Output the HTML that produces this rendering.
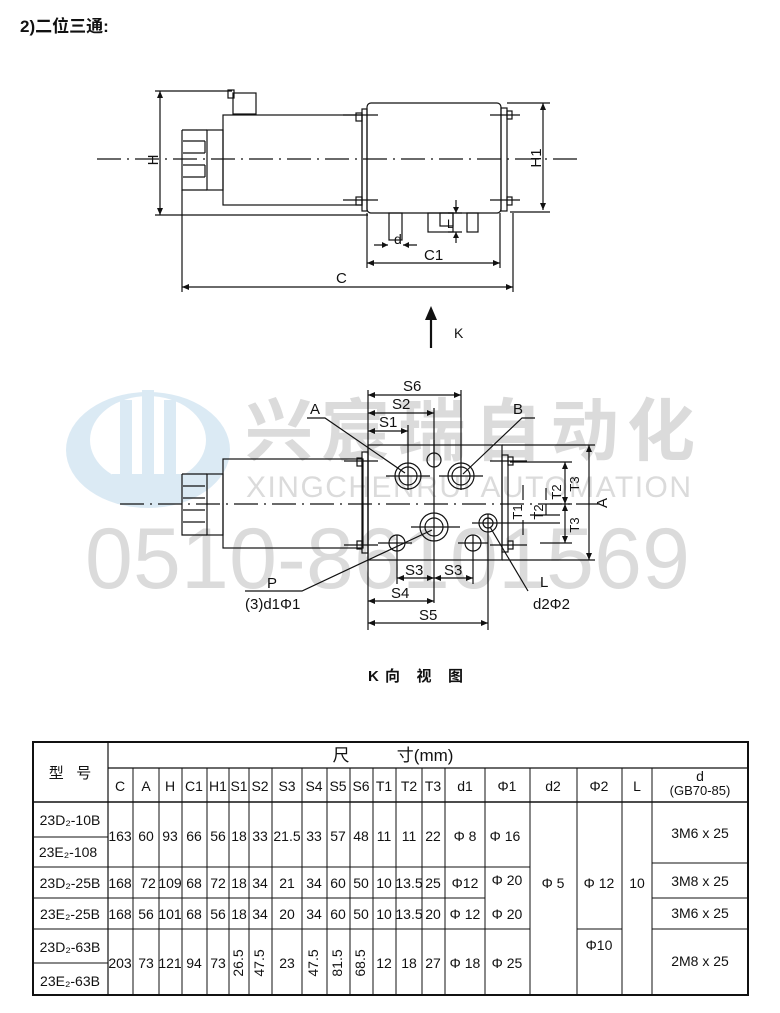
<!DOCTYPE html>
<html><head><meta charset="utf-8"><style>
html,body{margin:0;padding:0;background:#fff}
svg{display:block}
text{font-family:"Liberation Sans","Noto Sans CJK SC",sans-serif;fill:#111}
</style></head><body>
<svg width="780" height="1013" viewBox="0 0 780 1013" xmlns="http://www.w3.org/2000/svg">
<!-- watermark -->
<g opacity="0.5">
<ellipse cx="148" cy="450" rx="82" ry="58" fill="#b9d6ea"/>
<ellipse cx="148" cy="440" rx="58" ry="44" fill="#fff"/>
<rect x="120" y="400" width="12" height="80" fill="#b9d6ea"/>
<rect x="142" y="390" width="12" height="90" fill="#b9d6ea"/>
<rect x="164" y="400" width="12" height="80" fill="#b9d6ea"/>
<rect x="112" y="474" width="72" height="10" fill="#b9d6ea"/>
<text x="245" y="455" font-size="68" font-weight="bold" style="fill:#b8b8b8" textLength="450">兴宸瑞自动化</text>
<text x="246" y="497" font-size="30" style="fill:#b8b8b8" textLength="445">XINGCHENRUI AUTOMATION</text>
<text x="85" y="588" font-size="86" style="fill:#b8b8b8" textLength="605">0510-86101569</text>
</g>

<text x="20" y="32" font-size="17" font-weight="bold">2)二位三通:</text>

<g stroke="#111" stroke-width="1.2" fill="none">
<!-- TOP VIEW -->
<line x1="97" y1="159" x2="578" y2="159" stroke-dasharray="24,6,2,6"/>
<line x1="160" y1="91" x2="160" y2="215"/>
<line x1="155" y1="91" x2="232" y2="91"/>
<line x1="155" y1="215" x2="368" y2="215"/>
<rect x="233" y="93" width="23" height="21"/>
<rect x="228" y="90" width="6" height="8"/>
<rect x="223" y="115" width="139" height="90"/>
<rect x="207" y="130" width="16" height="60"/>
<path d="M182 130H207M182 130V190H207M183 141H205M183 153H205M183 165H205M183 177H205M205 141V153M205 165V177"/>
<rect x="362" y="109" width="5" height="102"/>
<rect x="367" y="103" width="134" height="110" rx="4"/>
<rect x="501" y="108" width="6" height="103"/>
<rect x="356" y="113" width="6" height="8"/><rect x="356" y="197" width="6" height="8"/>
<rect x="507" y="111" width="5" height="8"/><rect x="507" y="197" width="5" height="8"/>
<path d="M343 115H378M343 200H378M490 115H520M490 200H520"/>
<line x1="543" y1="103" x2="543" y2="210"/>
<path d="M507 103H550M510 212H550"/>
<rect x="389" y="213" width="13" height="27"/>
<rect x="428" y="213" width="25" height="19"/>
<rect x="440" y="213" width="13" height="13"/>
<rect x="467" y="213" width="11" height="19"/>
<path d="M374 245H388M403 245H417"/>
<path d="M456 200V213M456 232V243M448 213H462M448 232H462"/>
<line x1="367" y1="263" x2="500" y2="263"/>
<path d="M367 213V268M500 213V268"/>
<line x1="182" y1="287" x2="513" y2="287"/>
<path d="M182 190V292M513 213V292"/>
<line x1="431" y1="318" x2="431" y2="348" stroke-width="2.2"/>
<!-- BOTTOM VIEW -->
<line x1="120" y1="504" x2="600" y2="504" stroke-dasharray="24,6,2,6"/>
<rect x="223" y="459" width="140" height="89"/>
<rect x="207" y="474" width="16" height="61"/>
<path d="M182 474H207M182 474V535H207M183 486H205M183 498H205M183 510H205M183 522H205"/>
<rect x="362" y="452" width="6" height="101"/>
<rect x="368" y="445" width="134" height="115"/>
<rect x="502" y="455" width="6" height="97"/>
<rect x="357" y="458" width="5" height="8"/><rect x="357" y="541" width="5" height="8"/>
<rect x="508" y="457" width="5" height="8"/><rect x="508" y="541" width="5" height="8"/>
<path d="M344 461H378M344 545H378M490 461H527M490 545H527"/>
<circle cx="408" cy="476" r="13"/><circle cx="408" cy="476" r="9"/>
<circle cx="461" cy="476" r="13"/><circle cx="461" cy="476" r="9"/>
<circle cx="434" cy="460" r="7"/>
<circle cx="434" cy="527" r="14"/><circle cx="434" cy="527" r="9"/>
<circle cx="488" cy="523" r="9"/><circle cx="488" cy="523" r="5"/>
<circle cx="397" cy="543" r="8"/><circle cx="473" cy="543" r="8"/>
<path d="M386 476H430M439 476H483M408 440V490M461 390V490M411 527H460M472 523H560M378 543H412M458 543H488M434 440V603M397 535V584M473 535V584M488 514V630M408 425V465"/>
<path d="M368 390V630"/>
<line x1="368" y1="395" x2="461" y2="395"/>
<line x1="368" y1="413" x2="434" y2="413"/><line x1="434" y1="408" x2="434" y2="455"/>
<line x1="368" y1="431" x2="408" y2="431"/>
<path d="M307 418H325L405 473M535 418H522L463 474"/>
<path d="M397 578H473M368 601H434M368 623H488"/>
<path d="M245 591H302L432 530M528 591L490 527"/>
<line x1="589" y1="445" x2="589" y2="560"/>
<path d="M502 445H595M502 560H595"/>
<path d="M510 462H572M550 504H572M530 515H560M540 543H572"/>
<line x1="565" y1="462" x2="565" y2="543"/>
<line x1="546" y1="504" x2="546" y2="515"/>
<path d="M523 485V500M523 520V535M546 488V500"/>
</g>
<g fill="#111">
<path d="M431 306L425 320H437Z"/>
<path d="M160 91l-3 7h6zM160 215l-3-7h6zM543 103l-3 7h6zM543 210l-3-7h6zM367 263l7-3v6zM500 263l-7-3v6zM182 287l7-3v6zM513 287l-7-3v6zM388 245l-6-3v6zM403 245l6-3v6zM456 213l-3-6h6zM456 232l-3 6h6z"/>
<path d="M368 395l7-3v6zM461 395l-7-3v6zM368 413l7-3v6zM434 413l-7-3v6zM368 431l7-3v6zM408 431l-7-3v6zM397 578l7-3v6zM434 578l-7-3v6zM434 578l7-3v6zM473 578l-7-3v6zM368 601l7-3v6zM434 601l-7-3v6zM368 623l7-3v6zM488 623l-7-3v6zM589 445l-3 7h6zM589 560l-3-7h6zM565 462l-3 7h6zM565 504l-3-7h6zM565 504l-3 7h6zM565 543l-3-7h6z"/>
</g>
<g font-size="15">
<text transform="translate(158 160) rotate(-90)" text-anchor="middle">H</text>
<text x="394" y="244" font-size="14">d</text>
<text x="447" y="228" font-size="12">L</text>
<text transform="translate(541 158) rotate(-90)" text-anchor="middle">H1</text>
<text x="424" y="260">C1</text>
<text x="336" y="283">C</text>
<text x="454" y="338" font-size="14">K</text>
<text x="403" y="391">S6</text>
<text x="392" y="409">S2</text>
<text x="379" y="427">S1</text>
<text x="310" y="414">A</text>
<text x="513" y="414">B</text>
<text x="405" y="575">S3</text>
<text x="444" y="575">S3</text>
<text x="391" y="598">S4</text>
<text x="419" y="620">S5</text>
<text x="267" y="588">P</text>
<text x="245" y="609">(3)d1Φ1</text>
<text x="540" y="587">L</text>
<text x="533" y="609">d2Φ2</text>
<text transform="translate(607 503) rotate(-90)" text-anchor="middle">A</text>
<text transform="translate(579 484) rotate(-90)" text-anchor="middle" font-size="13">T3</text>
<text transform="translate(579 525) rotate(-90)" text-anchor="middle" font-size="13">T3</text>
<text transform="translate(561 492) rotate(-90)" text-anchor="middle" font-size="13">T2</text>
<text transform="translate(543 512) rotate(-90)" text-anchor="middle" font-size="13">T2</text>
<text transform="translate(522 512) rotate(-90)" text-anchor="middle" font-size="13">T1</text>
</g>
<text x="368" y="681" font-size="15" font-weight="bold" font-family="Liberation Serif" textLength="95">K向 视 图</text>

<!-- TABLE -->
<g stroke="#111" fill="none">
<rect x="33" y="742" width="715" height="253" stroke-width="2"/>
<line x1="108" y1="742" x2="108" y2="995" stroke-width="1.2"/>
<line x1="108" y1="768" x2="748" y2="768" stroke-width="1.2"/>
<line x1="33" y1="802" x2="748" y2="802" stroke-width="1.5"/>
<g stroke-width="1">
<path d="M133 768V995M159 768V995M182 768V995M207 768V995M229 768V995M249 768V995M272 768V995M302 768V995M327 768V995M350 768V995M373 768V995M396 768V995M422 768V995M445 768V995M485 768V995M530 768V995M577 768V995M622 768V995M652 768V995"/>
<path d="M33 837H108M33 867H530M33 898H485M33 929H530M33 963H108"/>
<path d="M652 863H748M652 898H748M652 929H748M577 929H622"/>
</g>
</g>
<g font-size="14" text-anchor="middle">
<text x="70" y="778" font-size="15">型 &#160;&#160;号</text>
<text x="393" y="761" font-size="17">尺&#160;&#160;&#160;&#160;&#160;&#160;&#160;&#160;&#160;&#160;寸(mm)</text>
<text x="120" y="791">C</text><text x="146" y="791">A</text><text x="170" y="791">H</text><text x="194" y="791">C1</text><text x="218" y="791">H1</text><text x="239" y="791">S1</text><text x="260" y="791">S2</text><text x="287" y="791">S3</text><text x="314" y="791">S4</text><text x="338" y="791">S5</text><text x="361" y="791">S6</text><text x="384" y="791">T1</text><text x="409" y="791">T2</text><text x="433" y="791">T3</text><text x="465" y="791">d1</text><text x="507" y="791">Φ1</text><text x="553" y="791">d2</text><text x="599" y="791">Φ2</text><text x="637" y="791">L</text>
<text x="700" y="781">d</text><text x="700" y="795" font-size="13">(GB70-85)</text>
<text x="70" y="825">23D₂-10B</text><text x="68" y="857">23E₂-108</text>
<text x="70" y="888">23D₂-25B</text><text x="70" y="919">23E₂-25B</text>
<text x="70" y="952">23D₂-63B</text><text x="70" y="986">23E₂-63B</text>
<g>
<text x="120" y="841">163</text><text x="146" y="841">60</text><text x="170" y="841">93</text><text x="194" y="841">66</text><text x="218" y="841">56</text><text x="239" y="841">18</text><text x="260" y="841">33</text><text x="287" y="841">21.5</text><text x="314" y="841">33</text><text x="338" y="841">57</text><text x="361" y="841">48</text><text x="384" y="841">11</text><text x="409" y="841">11</text><text x="433" y="841">22</text><text x="465" y="841">Φ 8</text><text x="505" y="841">Φ 16</text>
<text x="120" y="888">168</text><text x="148" y="888">72</text><text x="170" y="888">109</text><text x="194" y="888">68</text><text x="218" y="888">72</text><text x="239" y="888">18</text><text x="260" y="888">34</text><text x="287" y="888">21</text><text x="314" y="888">34</text><text x="338" y="888">60</text><text x="361" y="888">50</text><text x="384" y="888">10</text><text x="409" y="888">13.5</text><text x="433" y="888">25</text><text x="465" y="888">Φ12</text><text x="507" y="885">Φ 20</text>
<text x="120" y="919">168</text><text x="146" y="919">56</text><text x="170" y="919">101</text><text x="194" y="919">68</text><text x="218" y="919">56</text><text x="239" y="919">18</text><text x="260" y="919">34</text><text x="287" y="919">20</text><text x="314" y="919">34</text><text x="338" y="919">60</text><text x="361" y="919">50</text><text x="384" y="919">10</text><text x="409" y="919">13.5</text><text x="433" y="919">20</text><text x="465" y="919">Φ 12</text><text x="507" y="919">Φ 20</text>
<text x="120" y="968">203</text><text x="146" y="968">73</text><text x="170" y="968">121</text><text x="194" y="968">94</text><text x="218" y="968">73</text><text x="287" y="968">23</text><text x="384" y="968">12</text><text x="409" y="968">18</text><text x="433" y="968">27</text><text x="465" y="968">Φ 18</text><text x="507" y="968">Φ 25</text>
<text transform="translate(243 963) rotate(-90)">26.5</text><text transform="translate(264 963) rotate(-90)">47.5</text><text transform="translate(318 963) rotate(-90)">47.5</text><text transform="translate(342 963) rotate(-90)">81.5</text><text transform="translate(365 963) rotate(-90)">68.5</text>
<text x="553" y="888">Φ 5</text><text x="599" y="888">Φ 12</text><text x="637" y="888">10</text><text x="599" y="950">Φ10</text>
<text x="700" y="838">3M6 x 25</text><text x="700" y="886">3M8 x 25</text><text x="700" y="918">3M6 x 25</text><text x="700" y="966">2M8 x 25</text>
</g>
</g>
</svg>
</body></html>
